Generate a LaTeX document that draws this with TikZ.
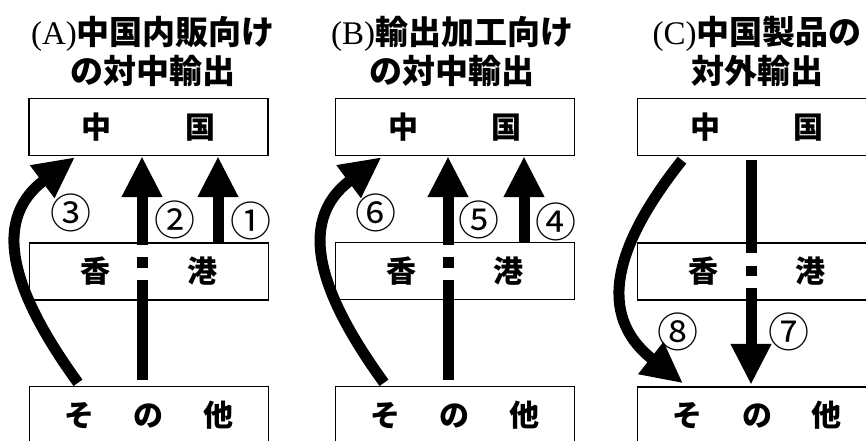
\documentclass[tikz,border=0pt]{standalone}
\usepackage{fontspec}
\setmainfont{Liberation Serif}
\newfontfamily\cjk{Noto Sans CJK JP}
\usetikzlibrary{arrows.meta,calc}
\begin{document}
\begin{tikzpicture}[x=1pt,y=-1pt,
 box/.style={draw, line width=1.4pt, fill=white, minimum width=239pt, minimum height=57pt, inner sep=0pt, font=\cjk\bfseries\fontsize{30}{30}\selectfont},
 arr/.style={line width=11pt, -{Triangle[width=38pt,length=41pt]}},
 gap/.style={fill=white},
 num/.style={inner sep=0pt, font=\cjk\fontsize{41}{41}\selectfont},
 ttl/.style={align=center, inner sep=0pt, font=\fontsize{33}{39}\selectfont}]
\useasboundingbox (0,0) rectangle (866,441);
\clip (0,0) rectangle (866,441);
\fill[white] (0,0) rectangle (866,441);
% titles
\node[ttl] (tA) at (153,51) {(A){\cjk\bfseries 中国内販向け}\\{\cjk\bfseries の対中輸出}};
\node[ttl] (tB) at (452,51) {(B){\cjk\bfseries 輸出加工向け}\\{\cjk\bfseries の対中輸出}};
\node[ttl] (tC) at (757,51) {(C){\cjk\bfseries 中国製品の}\\{\cjk\bfseries 対外輸出}};
% panel A boxes
\node[box] (chA) at (148.5,127) {中\hspace{74pt}国};
\node[box] (hkA) at (149,271.5) {香\hspace{77pt}港};
\node[box] (soA) at (149,415) {そ\hspace{40pt}の\hspace{40pt}他};
% panel B boxes
\node[box] (chB) at (455,127) {中\hspace{74pt}国};
\node[box] (hkB) at (455,271) {香\hspace{77pt}港};
\node[box] (soB) at (455,415) {そ\hspace{40pt}の\hspace{40pt}他};
% panel C boxes
\node[box] (chC) at (757,127) {中\hspace{74pt}国};
\node[box] (hkC) at (757,271.5) {香\hspace{77pt}港};
\node[box] (soC) at (757,415.5) {そ\hspace{40pt}の\hspace{40pt}他};
% panel A arrows
\draw[arr] ($(hkA.north)+(69,0)$) -- ($(chA.south)+(69.5,0)$);
\draw[arr] ($(soA.north)+(-7,-6)$) -- ($(chA.south)+(-6.5,0)$);
\fill[gap] ($(hkA.center)+(-14,-26.5)$) rectangle ($(hkA.center)+(1,-14.5)$);
\fill[gap] ($(hkA.center)+(-14,-3.5)$) rectangle ($(hkA.center)+(1,8.5)$);
\draw[arr] ($(soA.north)+(-71,-3)$) .. controls (18,300) and (-13,223) .. ($(chA.south)+(-73.5,1)$);
% panel B arrows
\draw[arr] ($(hkB.north)+(69,0)$) -- ($(chB.south)+(69,0)$);
\draw[arr] ($(soB.north)+(-7,-6)$) -- ($(chB.south)+(-7,0)$);
\fill[gap] ($(hkB.center)+(-14,-26)$) rectangle ($(hkB.center)+(1,-14)$);
\fill[gap] ($(hkB.center)+(-14,-3)$) rectangle ($(hkB.center)+(1,9)$);
\draw[arr] ($(soB.north)+(-71,-3)$) .. controls (324,300) and (293,223) .. ($(chB.south)+(-73.5,1)$);
% panel C arrows
\draw[arr] ($(chC.south)+(-6,4)$) -- ($(soC.north)+(-6,-1.5)$);
\fill[gap] ($(hkC.center)+(-14,-18.5)$) rectangle ($(hkC.center)+(2,-5.5)$);
\fill[gap] ($(hkC.center)+(-14,4.5)$) rectangle ($(hkC.center)+(2,16.5)$);
\draw[arr] ($(chC.south)+(-75,4)$) .. controls (614,246) and (596,315) .. ($(soC.north)+(-74,-3)$);
% labels
\node[num] (n1) at (251,221) {①};
\node[num] (n2) at (175,220) {②};
\node[num] (n3) at (71,213) {③};
\node[num] (n4) at (556,222) {④};
\node[num] (n5) at (479,220) {⑤};
\node[num] (n6) at (376,213) {⑥};
\node[num] (n7) at (789,332) {⑦};
\node[num] (n8) at (678,332) {⑧};
\end{tikzpicture}
\end{document}
